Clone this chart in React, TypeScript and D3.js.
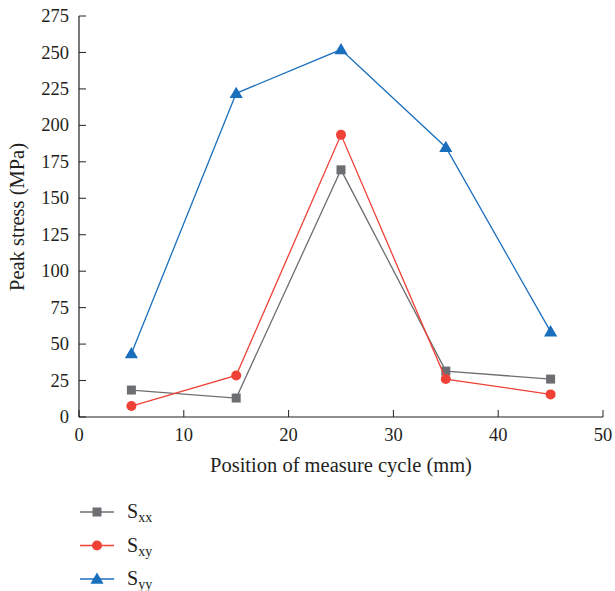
import React from "react";
import * as d3 from "d3";

const positions = [5, 15, 25, 35, 45];
const sxx = [18.5, 13, 169.5, 31.5, 26];
const sxy = [7.5, 28.5, 193.5, 26, 15.5];
const syy = [43.5, 222, 252, 185, 58.5];
const xTicks = [0, 10, 20, 30, 40, 50];
const yTicks = [0, 25, 50, 75, 100, 125, 150, 175, 200, 225, 250, 275];

const series = [
  { name: "xx", values: sxx, color: "#6d6e71", marker: "square" },
  { name: "xy", values: sxy, color: "#ef4136", marker: "circle" },
  { name: "yy", values: syy, color: "#1a6fbd", marker: "triangle" },
];

const W = 615, H = 591;
const left = 79, right = 603, top = 16, bottom = 417;
const font = "'Liberation Serif', 'DejaVu Serif', serif";

function Marker({ type, x, y, color }: { type: string; x: number; y: number; color: string }) {
  if (type === "square") return <rect x={x - 4.5} y={y - 4.5} width={9} height={9} fill={color} />;
  if (type === "circle") return <circle cx={x} cy={y} r={5} fill={color} />;
  const sym = d3.symbol(d3.symbolTriangle, 75)();
  return <path d={sym as string} transform={`translate(${x},${y + 1})`} fill={color} />;
}

export default function App() {
  const xs = d3.scaleLinear().domain([0, 50]).range([left, right]);
  const ys = d3.scaleLinear().domain([0, 275]).range([bottom, top]);
  const line = d3.line<number>().x((_, i) => xs(positions[i])).y((d) => ys(d));
  return (
    <svg width={W} height={H} style={{ position: "absolute", left: 0, top: 0 }}>
      <rect width={W} height={H} fill="white" />
      <line x1={left} y1={top} x2={left} y2={bottom} stroke="#231f20" strokeWidth={1.2} />
      <line x1={left} y1={bottom} x2={right} y2={bottom} stroke="#231f20" strokeWidth={1.2} />
      {yTicks.map((t) => (
        <g key={"y" + t}>
          <line x1={left} x2={left + 7} y1={ys(t)} y2={ys(t)} stroke="#231f20" strokeWidth={1} />
          <text x={left - 10} y={ys(t)} dy="0.33em" textAnchor="end" fontFamily={font} fontSize={18.5} fill="#231f20">{t}</text>
        </g>
      ))}
      {xTicks.map((t) => (
        <g key={"x" + t}>
          <line x1={xs(t)} x2={xs(t)} y1={bottom} y2={bottom - 7} stroke="#231f20" strokeWidth={1} />
          <text x={xs(t)} y={bottom + 24} textAnchor="middle" fontFamily={font} fontSize={18.5} fill="#231f20">{t}</text>
        </g>
      ))}
      <text x={341} y={472} textAnchor="middle" fontFamily={font} fontSize={20.5} fill="#231f20">Position of measure cycle (mm)</text>
      <text transform={`translate(24,217) rotate(-90)`} textAnchor="middle" fontFamily={font} fontSize={20.5} fill="#231f20">Peak stress (MPa)</text>
      {series.map((s) => (
        <g key={s.name}>
          <path d={line(s.values) as string} fill="none" stroke={s.color} strokeWidth={1.3} />
          {s.values.map((v, i) => (
            <Marker key={i} type={s.marker} x={xs(positions[i])} y={ys(v)} color={s.color} />
          ))}
        </g>
      ))}
      {series.map((s, i) => {
        const ly = 512 + i * 33.5;
        return (
          <g key={"l" + s.name}>
            <line x1={80} x2={114} y1={ly} y2={ly} stroke={s.color} strokeWidth={1.3} />
            <Marker type={s.marker} x={97} y={ly} color={s.color} />
            <text x={127} y={ly + 6} fontFamily={font} fontSize={20} fill="#231f20">
              S<tspan fontSize={14} dy={4}>{s.name}</tspan>
            </text>
          </g>
        );
      })}
    </svg>
  );
}
